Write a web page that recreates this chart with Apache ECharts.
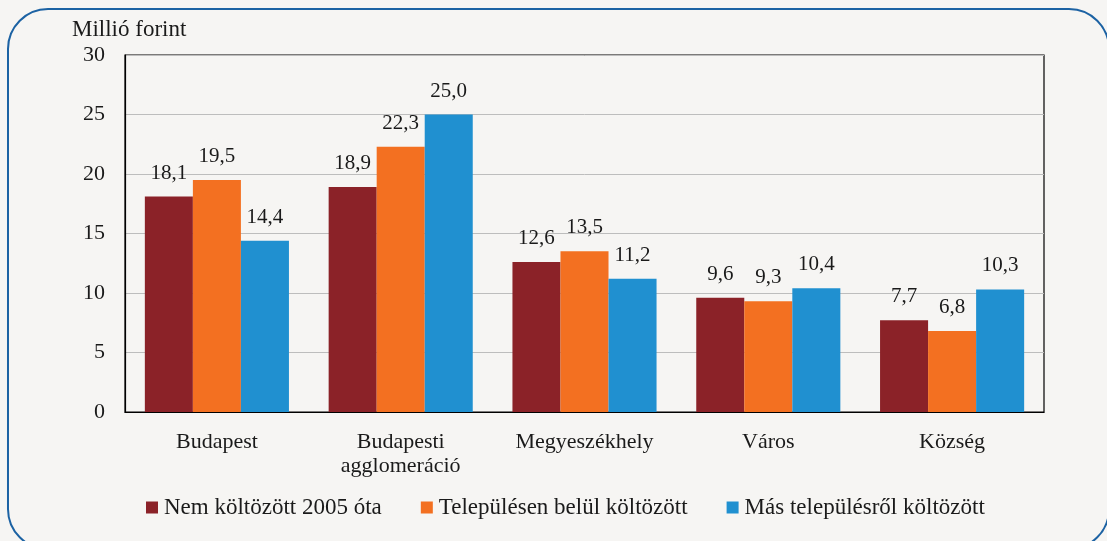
<!DOCTYPE html>
<html><head><meta charset="utf-8">
<script src="https://cdn.jsdelivr.net/npm/echarts@6/dist/echarts.min.js"></script>
<style>html,body{margin:0;padding:0;background:#f6f5f3}#c{width:1107px;height:541px}</style>
</head><body><div id="c"></div>
<script>
const categories = ['Budapest', 'Budapesti\nagglomeráció', 'Megyeszékhely', 'Város', 'Község'];
const seriesNames = ['Nem költözött 2005 óta', 'Településen belül költözött', 'Más településről költözött'];
const nemKoltozott = [18.1, 18.9, 12.6, 9.6, 7.7];
const belulKoltozott = [19.5, 22.3, 13.5, 9.3, 6.8];
const masRolKoltozott = [14.4, 25.0, 11.2, 10.4, 10.3];
const colors = ['#8b2228', '#f37021', '#2090d0'];
const font = '"Liberation Serif", "DejaVu Serif", serif';

const chart = echarts.init(document.getElementById('c'));
const mk = (name, data, color) => ({
  name, type: 'bar', data, barGap: 0, barCategoryGap: '21.6%',
  itemStyle: { color },
  label: { show: true, position: 'top', distance: 13, color: '#1a1a1a', fontFamily: font, fontSize: 21,
    formatter: p => p.value.toFixed(1).replace('.', ',') }
});
chart.setOption({
  backgroundColor: '#f6f5f3',
  animation: false,
  textStyle: { fontFamily: font },
  graphic: [{ type: 'rect', shape: { x: 8, y: 9, width: 1101, height: 540, r: 40 },
    style: { fill: 'none', stroke: '#1c62a3', lineWidth: 2 }, silent: true }],
  grid: { left: 125, right: 63, top: 55, bottom: 129, show: true, borderColor: '#000', borderWidth: 1.2 },
  legend: { bottom: 17, left: 141, itemWidth: 12, itemHeight: 12, itemGap: 39, icon: 'rect',
    textStyle: { fontFamily: font, fontSize: 23, color: '#1a1a1a', padding: [0, 0, 0, 1] },
    data: seriesNames },
  xAxis: { type: 'category', data: categories,
    axisLine: { lineStyle: { color: '#000', width: 1.2 } }, axisTick: { show: false },
    axisLabel: { fontFamily: font, fontSize: 22, color: '#1a1a1a', margin: 18, lineHeight: 24 } },
  yAxis: { type: 'value', min: 0, max: 30, interval: 5, name: 'Millió forint',
    nameLocation: 'end', nameGap: 14,
    nameTextStyle: { fontFamily: font, fontSize: 23, color: '#1a1a1a', align: 'left', padding: [0, 0, 0, -53] },
    axisLine: { show: true, lineStyle: { color: '#000', width: 1.2 } }, axisTick: { show: false },
    splitLine: { lineStyle: { color: '#bdbdbd', width: 1 } },
    axisLabel: { fontFamily: font, fontSize: 22, color: '#1a1a1a', margin: 20 } },
  series: [mk(seriesNames[0], nemKoltozott, colors[0]), mk(seriesNames[1], belulKoltozott, colors[1]), mk(seriesNames[2], masRolKoltozott, colors[2])]
});
</script></body></html>
